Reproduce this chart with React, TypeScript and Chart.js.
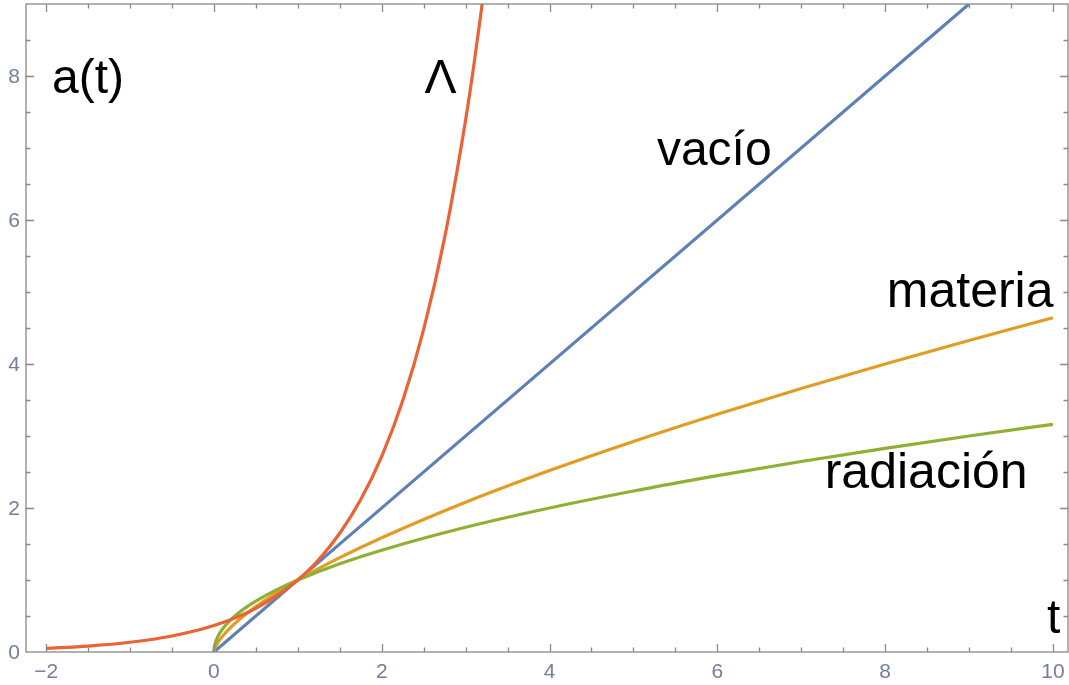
import { useEffect, useRef } from 'react';
import { Chart, registerables } from 'chart.js';
Chart.register(...registerables);

// Λ (exponential) curve
const lambdaT = [-2, -1.5, -1, -0.5, 0, 0.5, 1, 1.25, 1.5, 1.75, 2, 2.25, 2.5, 2.75, 3, 3.1, 3.2];
const lambdaA = [0.05, 0.082, 0.135, 0.223, 0.368, 0.607, 1, 1.284, 1.649, 2.117, 2.718, 3.49, 4.482, 5.755, 7.389, 8.166, 9.025];
// vacío
const vacioT = [0, 9];
const vacioA = [0, 9];
// materia
const materiaT = [0, 0.005, 0.02, 0.05, 0.1, 0.2, 0.35, 0.5, 0.75, 1, 1.5, 2, 3, 4, 5, 6, 7, 8, 9, 10];
const materiaA = [0, 0.029, 0.074, 0.136, 0.215, 0.342, 0.497, 0.63, 0.825, 1, 1.31, 1.587, 2.08, 2.52, 2.924, 3.302, 3.659, 4.0, 4.327, 4.642];
// radiación
const radT = [0, 0.002, 0.005, 0.01, 0.02, 0.05, 0.1, 0.2, 0.35, 0.5, 0.75, 1, 1.5, 2, 3, 4, 5, 6, 7, 8, 9, 10];
const radA = [0, 0.045, 0.071, 0.1, 0.141, 0.224, 0.316, 0.447, 0.592, 0.707, 0.866, 1, 1.225, 1.414, 1.732, 2, 2.236, 2.449, 2.646, 2.828, 3, 3.162];

const xTicks = [-2, 0, 2, 4, 6, 8, 10];
const yTicks = [0, 2, 4, 6, 8];

const labelTexts = ['a(t)', 'Λ', 'vacío', 'materia', 'radiación', 't'];
const labelX = [-1.93, 2.51, 5.28, 8.02, 7.28, 9.93];
const labelY = [7.76, 7.76, 6.76, 4.79, 2.28, 0.26];
const labelSize = [48, 48, 48, 50, 50, 48];

const X_MIN = -2.24, X_MAX = 10.18, Y_MIN = 0, Y_MAX = 9;
const FONT = '"Liberation Sans", Arial, sans-serif';
const TICK_COLOR = '#71809a';

const toPts = (xs: number[], ys: number[]) => xs.map((x, i) => ({ x, y: ys[i] }));

const framePlugin = {
  id: 'frame',
  afterDatasetsDraw(chart: any) {
    const { ctx, chartArea: a, scales } = chart;
    const xs = scales.x, ys = scales.y;
    ctx.save();
    ctx.strokeStyle = '#888888';
    ctx.lineWidth = 1.3;
    ctx.strokeRect(a.left, a.top, a.right - a.left, a.bottom - a.top);
    ctx.beginPath();
    for (let v = -2; v <= X_MAX + 1e-9; v += 0.5) {
      const px = Math.round(xs.getPixelForValue(v)) + 0.5;
      const major = Math.abs(v / 2 - Math.round(v / 2)) < 1e-9;
      const len = major ? 8 : 4.5;
      ctx.moveTo(px, a.bottom); ctx.lineTo(px, a.bottom - len);
      ctx.moveTo(px, a.top); ctx.lineTo(px, a.top + len);
    }
    for (let v = 0.5; v < Y_MAX - 1e-9; v += 0.5) {
      const py = Math.round(ys.getPixelForValue(v)) + 0.5;
      const major = Math.abs(v / 2 - Math.round(v / 2)) < 1e-9;
      const len = major ? 8 : 4.5;
      ctx.moveTo(a.left, py); ctx.lineTo(a.left + len, py);
      ctx.moveTo(a.right, py); ctx.lineTo(a.right - len, py);
    }
    ctx.stroke();

    // tick labels
    ctx.fillStyle = TICK_COLOR;
    ctx.font = `21px ${FONT}`;
    ctx.textAlign = 'center';
    ctx.textBaseline = 'alphabetic';
    xTicks.forEach((v) => {
      ctx.fillText(String(v).replace('-', '\u2212'), xs.getPixelForValue(v), a.bottom + 26);
    });
    ctx.textAlign = 'right';
    ctx.textBaseline = 'middle';
    yTicks.forEach((v) => {
      ctx.fillText(String(v), a.left - 6, ys.getPixelForValue(v) + 1);
    });

    ctx.fillStyle = '#000';
    ctx.textAlign = 'left';
    ctx.textBaseline = 'alphabetic';
    labelTexts.forEach((t, i) => {
      ctx.font = `${labelSize[i]}px ${FONT}`;
      ctx.fillText(t, xs.getPixelForValue(labelX[i]), ys.getPixelForValue(labelY[i]));
    });
    ctx.restore();
  },
};

export default function App() {
  const ref = useRef<HTMLCanvasElement>(null);
  useEffect(() => {
    document.body.style.margin = '0';
    const line = (data: any, color: string) => ({
      data,
      borderColor: color,
      borderWidth: 3.2,
      pointRadius: 0,
      fill: false,
      cubicInterpolationMode: 'monotone' as const,
    });
    const chart = new Chart(ref.current!, {
      type: 'line',
      data: {
        datasets: [
          line(toPts(lambdaT, lambdaA), '#eb6235'),
          line(toPts(radT, radA), '#8fb032'),
          line(toPts(materiaT, materiaA), '#e19c24'),
          line(toPts(vacioT, vacioA), '#5e81b5'),
        ],
      },
      options: {
        animation: false,
        responsive: true,
        maintainAspectRatio: false,
        layout: { padding: { top: 4, right: 1, left: 0, bottom: 0 } },
        plugins: { legend: { display: false }, tooltip: { enabled: false } },
        scales: {
          x: {
            type: 'linear',
            min: X_MIN,
            max: X_MAX,
            grid: { display: false, drawTicks: false },
            border: { display: false },
            afterBuildTicks: (s: any) => { s.ticks = xTicks.map((v) => ({ value: v })); },
            afterFit: (s: any) => { s.height = 33; },
            ticks: { display: false },
          },
          y: {
            type: 'linear',
            min: Y_MIN,
            max: Y_MAX,
            grid: { display: false, drawTicks: false },
            border: { display: false },
            afterBuildTicks: (s: any) => { s.ticks = yTicks.map((v) => ({ value: v })); },
            afterFit: (s: any) => { s.width = 26; },
            ticks: { display: false },
          },
        },
      },
      plugins: [framePlugin],
    });
    return () => chart.destroy();
  }, []);
  return (
    <div style={{ width: 1069, height: 685, position: 'relative' }}>
      <canvas ref={ref} />
    </div>
  );
}
